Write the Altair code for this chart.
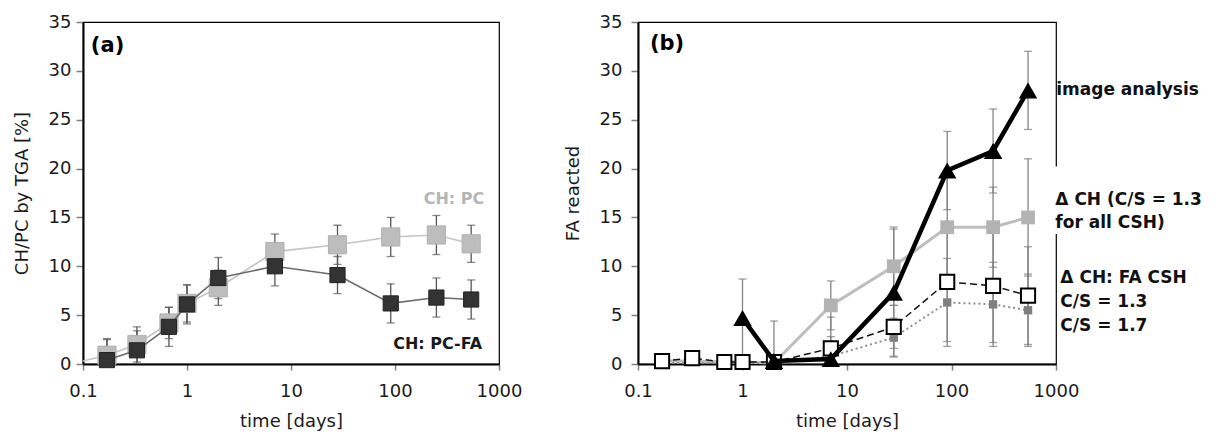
import altair as alt
import pandas as pd

# ---------------- Panel (a): CH/PC by TGA ----------------
t_a = [0.17, 0.33, 0.67, 1, 2, 7, 28, 91, 250, 540]
ch_pc = [0.9, 2.0, 4.2, 6.2, 7.8, 11.5, 12.2, 13.0, 13.2, 12.3]
ch_pc_err = [1.7, 1.8, 1.6, 1.9, 1.8, 1.8, 2.0, 2.0, 2.0, 1.9]
ch_pcfa = [0.4, 1.4, 3.8, 6.1, 8.8, 10.0, 9.1, 6.2, 6.8, 6.6]
ch_pcfa_err = [2.1, 2.0, 2.0, 2.0, 2.1, 2.0, 1.9, 2.0, 2.0, 2.0]
pc_line_start_t = [0.1]
pc_line_start = [0.3]

# ---------------- Panel (b): FA reacted ----------------
t_img = [1, 2, 7, 28, 91, 250, 540]
img = [4.7, 0.3, 0.5, 7.3, 19.8, 21.8, 28.0]
img_err = [4.0, 4.1, 0.8, 6.5, 4.0, 4.3, 4.0]

t_b = [0.17, 0.33, 0.67, 1, 2, 7, 28, 91, 250, 540]
dch_all = [0.3, 0.3, 0.2, 0.2, 0.1, 6.0, 10.0, 14.0, 14.0, 15.0]
dch_all_err = [0, 0, 0, 0, 0, 2.5, 4.0, 5.2, 4.1, 6.0]
fa13 = [0.3, 0.6, 0.2, 0.2, 0.2, 1.6, 3.8, 8.4, 8.0, 7.0]
fa13_err = [0, 0, 0, 0, 0, 3.2, 2.2, 6.1, 5.8, 5.0]
fa17 = [0.1, 0.1, 0.1, 0.1, 0.1, 0.8, 2.7, 6.3, 6.1, 5.5]
fa17_err = [0, 0, 0, 0, 0, 2.0, 2.0, 4.5, 4.3, 3.7]

x_ticks = [0.1, 1, 10, 100, 1000]
y_ticks = [0, 5, 10, 15, 20, 25, 30, 35]

FONT = "DejaVu Sans"
W_A, W_B, H = 416, 418, 342


def X(field, tp=12):
    return alt.X(
        f"{field}:Q",
        scale=alt.Scale(type="log", domain=[0.1, 1000]),
        axis=alt.Axis(values=x_ticks, format="~g", title="time [days]",
                      tickSize=6, labelPadding=12, titlePadding=tp,
                      labelFlush=False),
    )


def Y(field, title, lp, tp):
    return alt.Y(
        f"{field}:Q",
        scale=alt.Scale(domain=[0, 35]),
        axis=alt.Axis(values=y_ticks, title=title, tickSize=7,
                      labelPadding=lp, titlePadding=tp),
    )


# ---------- Panel (a) ----------
YA = lambda f: Y(f, "CH/PC by TGA [%]", 5, 17)

err_a = pd.DataFrame({
    "t": t_a + t_a,
    "lo": [v - e for v, e in zip(ch_pc, ch_pc_err)] + [v - e for v, e in zip(ch_pcfa, ch_pcfa_err)],
    "hi": [v + e for v, e in zip(ch_pc, ch_pc_err)] + [v + e for v, e in zip(ch_pcfa, ch_pcfa_err)],
})
pc_df = pd.DataFrame({"t": t_a, "v": ch_pc})
pc_line_df = pd.DataFrame({"t": pc_line_start_t + t_a, "v": pc_line_start + ch_pc})
fa_df = pd.DataFrame({"t": t_a, "v": ch_pcfa})

err_rule_a = alt.Chart(err_a).mark_rule(color="#555555", strokeWidth=1.3, clip=True).encode(
    x=X("t"), y=YA("lo"), y2="hi")
cap_lo_a = alt.Chart(err_a).mark_tick(color="#555555", orient="horizontal", size=8, thickness=1.3,
                                      clip=True).encode(x=X("t"), y=YA("lo"))
cap_hi_a = alt.Chart(err_a).mark_tick(color="#555555", orient="horizontal", size=8, thickness=1.3,
                                      clip=True).encode(x=X("t"), y=YA("hi"))
pc_line = alt.Chart(pc_line_df).mark_line(color="#c4c4c4", strokeWidth=1.6).encode(x=X("t"), y=YA("v"))
pc_pts = alt.Chart(pc_df).mark_point(shape="square", filled=True, fill="#bdbdbd", size=330,
                                     stroke="#b0b0b0", strokeWidth=1, opacity=1).encode(x=X("t"), y=YA("v"))
fa_line = alt.Chart(fa_df).mark_line(color="#6b6b6b", strokeWidth=1.6).encode(x=X("t"), y=YA("v"))
fa_pts = alt.Chart(fa_df).mark_point(shape="square", filled=True, fill="#333333", size=230,
                                     stroke="#222222", strokeWidth=1, opacity=1).encode(x=X("t"), y=YA("v"))

lab_a_panel = pd.DataFrame({"t": [0.119], "v": [32.5], "s": ["(a)"]})
lab_a_pc = pd.DataFrame({"t": [369], "v": [16.9], "s": ["CH: PC"]})
lab_a_fa = pd.DataFrame({"t": [690], "v": [2.05], "s": ["CH: PC-FA"]})

txt_a1 = alt.Chart(lab_a_panel).mark_text(font=FONT, fontSize=21, fontWeight="bold", align="left",
                                          baseline="middle", color="black").encode(
    x=X("t"), y=YA("v"), text="s:N")
txt_a2 = alt.Chart(lab_a_pc).mark_text(font=FONT, fontSize=16, fontWeight="bold", align="center",
                                       baseline="middle", color="#b5b5b5").encode(
    x=X("t"), y=YA("v"), text="s:N")
txt_a3 = alt.Chart(lab_a_fa).mark_text(font=FONT, fontSize=16, fontWeight="bold", align="right",
                                       baseline="middle", color="#1a1a1a").encode(
    x=X("t"), y=YA("v"), text="s:N")

panel_a = alt.layer(err_rule_a, cap_lo_a, cap_hi_a, pc_line, pc_pts, fa_line, fa_pts,
                    txt_a1, txt_a2, txt_a3).properties(width=W_A, height=H)

# ---------- Panel (b) ----------
YB = lambda f: Y(f, "FA reacted", 9, 17)


def err_rows(ts, vals, errs):
    return [(t, v - e, v + e) for t, v, e in zip(ts, vals, errs) if e > 0]


rows = (err_rows(t_img, img, img_err) + err_rows(t_b, dch_all, dch_all_err)
        + err_rows(t_b, fa13, fa13_err) + err_rows(t_b, fa17, fa17_err))
err_b = pd.DataFrame(rows, columns=["t", "lo", "hi"])

img_df = pd.DataFrame({"t": t_img, "v": img})
dch_df = pd.DataFrame({"t": t_b, "v": dch_all})
fa13_df = pd.DataFrame({"t": t_b, "v": fa13})
fa17_df = pd.DataFrame({"t": t_b, "v": fa17})

err_rule_b = alt.Chart(err_b).mark_rule(color="#858585", strokeWidth=1.3, clip=True).encode(
    x=X("t"), y=YB("lo"), y2="hi")
cap_lo_b = alt.Chart(err_b).mark_tick(color="#777777", orient="horizontal", size=8, thickness=1.3,
                                      clip=True).encode(x=X("t"), y=YB("lo"))
cap_hi_b = alt.Chart(err_b).mark_tick(color="#777777", orient="horizontal", size=8, thickness=1.3,
                                      clip=True).encode(x=X("t"), y=YB("hi"))

dch_line = alt.Chart(dch_df).mark_line(color="#bdbdbd", strokeWidth=3).encode(x=X("t"), y=YB("v"))
dch_pts = alt.Chart(dch_df).transform_filter("datum.t >= 7").mark_point(
    shape="square", filled=True, fill="#b3b3b3", size=190, opacity=1).encode(x=X("t"), y=YB("v"))
fa17_line = alt.Chart(fa17_df).mark_line(color="#8f8f8f", strokeWidth=2, strokeDash=[2, 3]).encode(
    x=X("t"), y=YB("v"))
fa17_pts = alt.Chart(fa17_df).transform_filter("datum.t >= 7").mark_point(
    shape="square", filled=True, fill="#7f7f7f", size=70, opacity=1).encode(x=X("t"), y=YB("v"))
fa13_line = alt.Chart(fa13_df).mark_line(color="#111111", strokeWidth=1.5, strokeDash=[7, 4]).encode(
    x=X("t"), y=YB("v"))
fa13_pts = alt.Chart(fa13_df).mark_point(shape="square", filled=True, fill="white", size=200,
                                         stroke="black", strokeWidth=2, opacity=1).encode(x=X("t"), y=YB("v"))
img_line = alt.Chart(img_df).mark_line(color="black", strokeWidth=4.5).encode(x=X("t"), y=YB("v"))
img_pts = alt.Chart(img_df).mark_point(shape="triangle-up", filled=True, fill="black", size=340,
                                       opacity=1).encode(x=X("t"), y=YB("v"))

gap_df = pd.DataFrame({"t": [860], "t2": [1150], "v": [13.3], "v2": [20.2]})
gap = alt.Chart(gap_df).mark_rect(fill="white").encode(x=X("t"), x2="t2", y=YB("v"), y2="v2")

lab_b_panel = pd.DataFrame({"t": [0.130], "v": [32.7], "s": ["(b)"]})
lab_b_right = pd.DataFrame({
    "t": [1005, 985, 985, 1100, 1100, 1100],
    "v": [28.0, 16.8, 14.4, 8.8, 6.3, 3.9],
    "s": ["image analysis", "Δ CH (C/S = 1.3", "for all CSH)", "Δ CH: FA CSH", "C/S = 1.3", "C/S = 1.7"],
})
txt_b1 = alt.Chart(lab_b_panel).mark_text(font=FONT, fontSize=21, fontWeight="bold", align="left",
                                          baseline="middle", color="black").encode(
    x=X("t"), y=YB("v"), text="s:N")
txt_b2 = alt.Chart(lab_b_right).mark_text(font=FONT, fontSize=17, fontWeight="bold", align="left",
                                          baseline="middle", color="#111111").encode(
    x=X("t"), y=YB("v"), text="s:N")

panel_b = alt.layer(err_rule_b, cap_lo_b, cap_hi_b, dch_line, dch_pts, fa17_line, fa17_pts,
                    fa13_line, fa13_pts, img_line, img_pts, gap, txt_b1, txt_b2).properties(width=W_B, height=H)

chart = alt.hconcat(panel_a, panel_b, spacing=40).properties(
    padding={"left": 12, "top": 12, "right": 0, "bottom": 0},
    background="white",
).configure_axis(
    labelFont=FONT, titleFont=FONT, labelFontSize=18, titleFontSize=18,
    titleFontWeight="normal", labelColor="#1a1a1a", titleColor="#1a1a1a",
    domainColor="black", domainWidth=2, tickColor="#808080", tickWidth=1.5, grid=False,
).configure_view(stroke="black", strokeWidth=1.2)

chart.save("out.html", embed_options={"renderer": "svg", "actions": False})
